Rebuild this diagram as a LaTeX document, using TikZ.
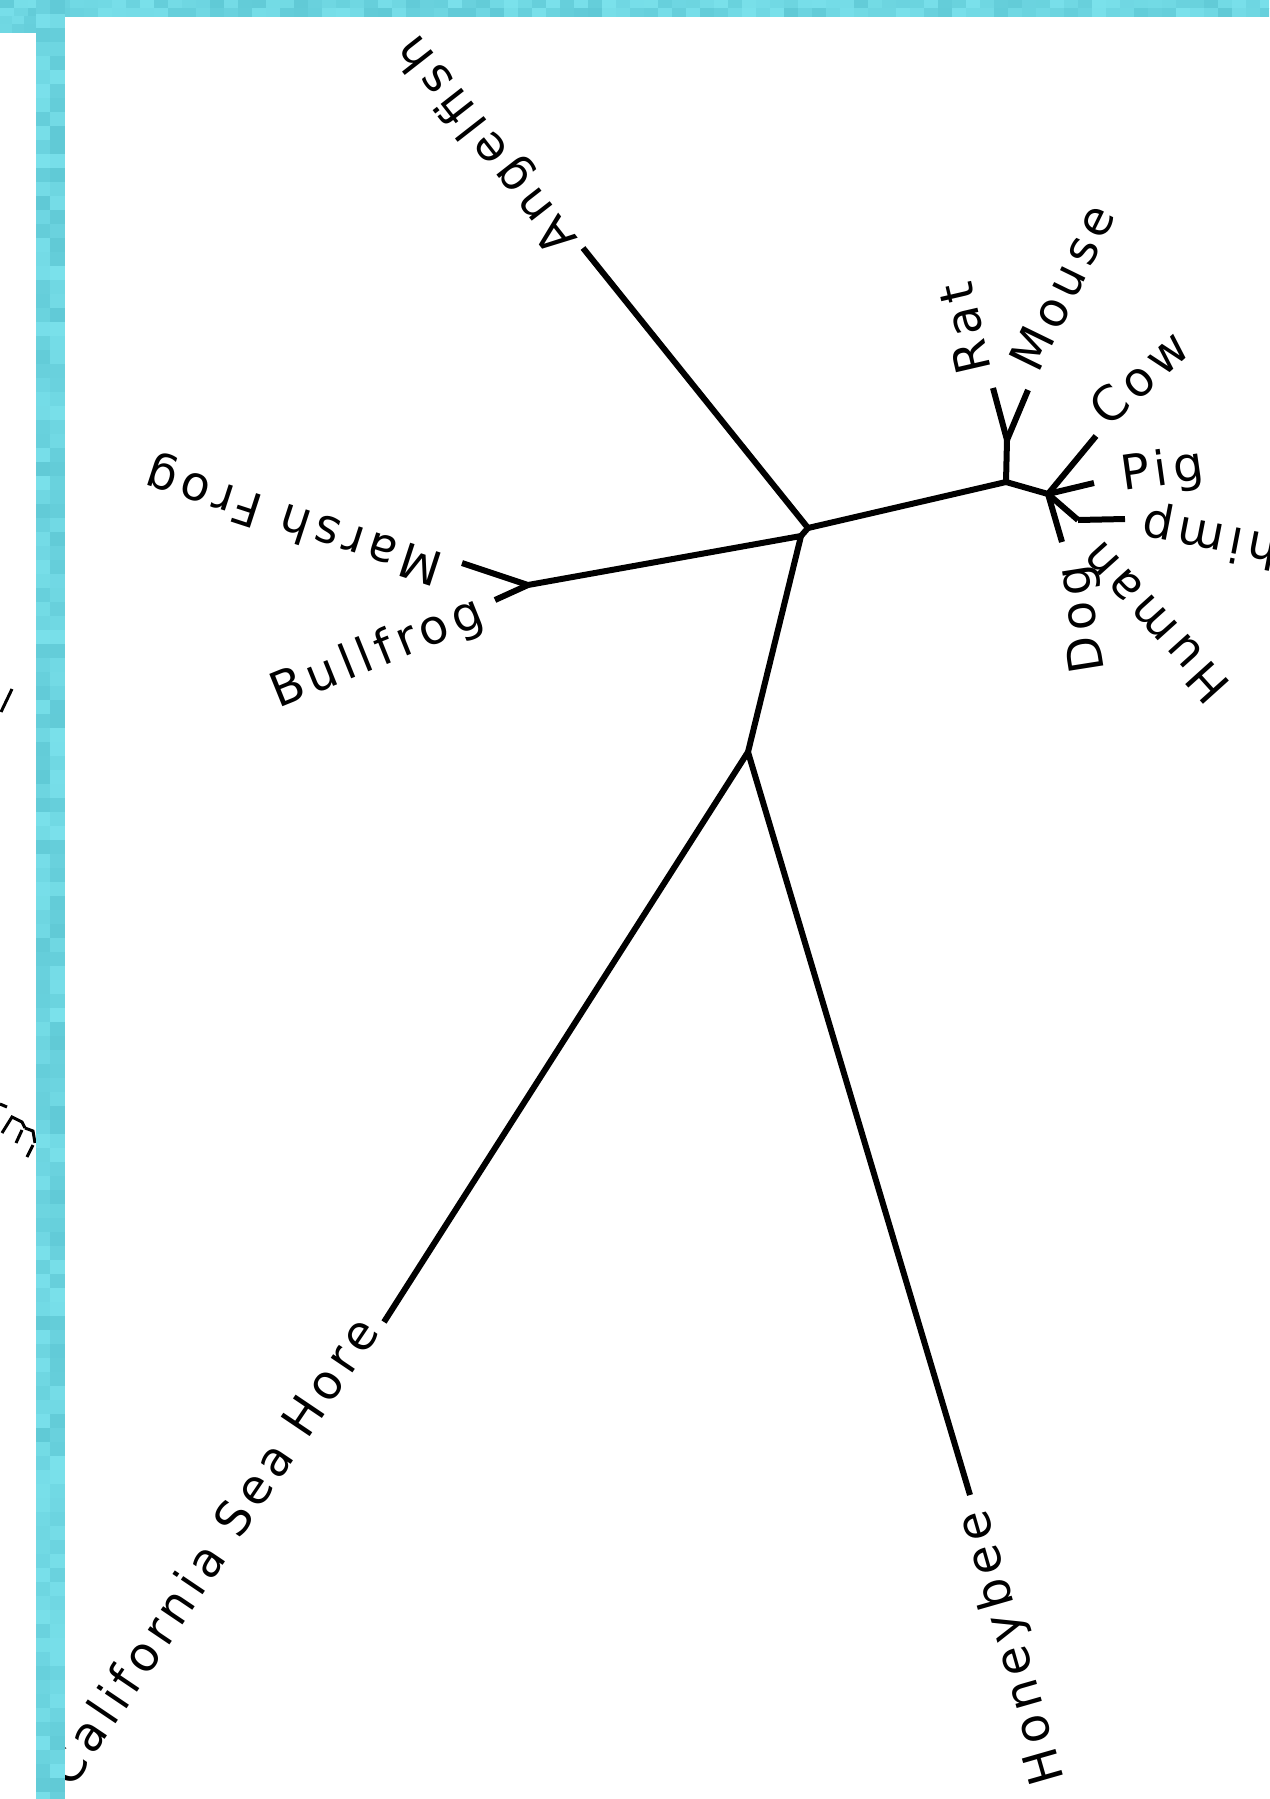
\documentclass[tikz,border=0pt]{standalone}
\usepackage{fontspec}
\setmainfont{DejaVu Sans}[LetterSpace=12.0]
\usetikzlibrary{calc}
\definecolor{cyA}{RGB}{90,196,209}
\definecolor{cyB}{RGB}{128,230,240}
\begin{document}
\begin{tikzpicture}[x=1bp,y=-1bp,
  branch/.style={line width=6bp, line cap=butt, line join=miter},
  lab/.style={font=\fontsize{48}{48}\selectfont, inner ysep=0pt, text=black},
  frag/.style={line width=3bp}]
\useasboundingbox (0,0) rectangle (1269,1799);
\clip (0,0) rectangle (1269,1799);
\fill[white] (0,0) rectangle (1269,1799);
% inner nodes
\coordinate (A1) at (808,528);
\coordinate (A2) at (801,536);
\coordinate (F) at (528,585);
\coordinate (E) at (748,752);
\coordinate (B) at (1006,482);
\coordinate (RM) at (1007,440);
\coordinate (C) at (1048,494);
\coordinate (D) at (1078,520);
% leaves
\coordinate (Ang) at (583,248);
\coordinate (Marsh) at (462,563);
\coordinate (Bull) at (495,600);
\coordinate (Cal) at (384,1322);
\coordinate (Honey) at (970,1495);
\coordinate (Rat) at (993,388);
\coordinate (Mouse) at (1028,390);
\coordinate (Cow) at (1096,436);
\coordinate (Pig) at (1094,483);
\coordinate (Chimp) at (1125,519);
\coordinate (Dog) at (1062,542);
% branches
\draw[branch] (A1) -- (Ang);
\draw[branch] (A1) -- (A2);
\draw[branch] (A2) -- (F);
\draw[branch] (F) -- (Marsh);
\draw[branch] (F) -- (Bull);
\draw[branch] (A2) -- (E);
\draw[branch] (E) -- (Cal);
\draw[branch] (E) -- (Honey);
\draw[branch] (A1) -- (B);
\draw[branch] (B) -- (RM);
\draw[branch] (RM) -- (Rat);
\draw[branch] (RM) -- (Mouse);
\draw[branch] (B) -- (C);
\draw[branch] (C) -- (Cow);
\draw[branch] (C) -- (Pig);
\draw[branch] (C) -- (D);
\draw[branch] (D) -- (Chimp);
\draw[branch] (C) -- (Dog);
% labels
\node[lab, rotate=128, anchor=mid west, inner xsep=10bp] (tAng) at (Ang) {Angelfish};
\node[lab, rotate=162, anchor=mid west, inner xsep=18bp] (tMarsh) at (Marsh) {Marsh Frog};
\node[lab, rotate=22, anchor=mid east, inner xsep=10bp] (tBull) at ($(Bull)+(0,18)$) {Bullfrog};
\node[lab, rotate=56, anchor=mid east, inner xsep=10bp] (tCal) at (Cal) {California Sea Hore};
\node[lab, rotate=106, anchor=mid east, inner xsep=14bp] (tHoney) at ($(Honey)+(10,0)$) {Honeybee};
\node[lab, rotate=103, anchor=mid west, inner xsep=18bp] (tRat) at (Rat) {Rat};
\node[lab, rotate=64, anchor=mid west, inner xsep=18bp] (tMouse) at (Mouse) {Mouse};
\node[lab, rotate=42, anchor=mid west, inner xsep=14bp] (tCow) at (Cow) {Cow};
\node[lab, rotate=8, anchor=mid west, inner xsep=0bp] (tPig) at ($(Pig)+(29,5)$) {Pig};
\node[lab, rotate=169, anchor=mid east, inner xsep=20bp] (tChimp) at ($(Chimp)+(0,-10)$) {Chimp};
\node[lab, rotate=132, anchor=mid east, inner xsep=0bp] (tHuman) at ($(D)+(22,21)$) {Human};
\node[lab, rotate=99, anchor=mid east, inner xsep=0bp] (tDog) at ($(Dog)+(23,22)$) {Dog};
% fragments of neighbouring labels at the left edge
\draw[frag] (12,689) -- (1,712);
\draw[frag] (0,1104) -- (7,1107);
\draw[frag] (2,1133) -- (12,1117) -- (22,1122) -- (25,1128);
\draw[frag] (22,1130) -- (16,1143);
\draw[frag] (25,1128) -- (33,1131) -- (35,1143);
\draw[frag] (33,1145) -- (27,1157);
% cyan frame with mottled texture
\pgfmathsetseed{7}
\foreach \i in {0,...,90}{
  \foreach \j in {0,1}{
    \pgfmathsetmacro\m{int(15+70*rnd)}
    \fill[cyA!\m!cyB] (14*\i,8*\j) rectangle +(14.5,8.5);
  }
}
\foreach \i in {0,1,2}{
  \foreach \j in {2,3}{
    \pgfmathsetmacro\m{int(15+70*rnd)}
    \fill[cyA!\m!cyB] (12*\i,8*\j) rectangle +(12.5,8.5);
  }
}
\foreach \j in {0,...,128}{
  \foreach \i in {0,1}{
    \pgfmathsetmacro\m{int(15+70*rnd)}
    \fill[cyA!\m!cyB] (36+14*\i,14*\j) rectangle +(14.5,14.5);
  }
}
\end{tikzpicture}
\end{document}
